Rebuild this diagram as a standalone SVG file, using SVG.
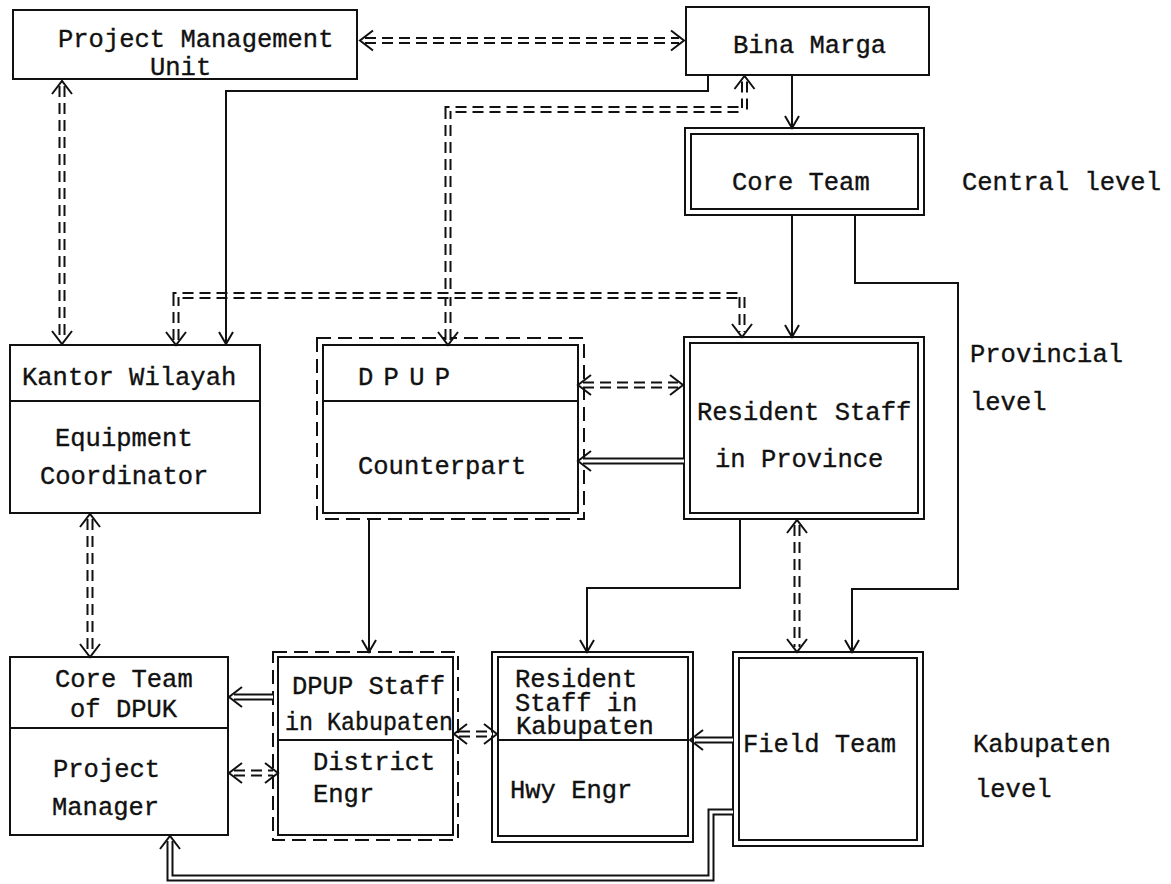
<svg xmlns="http://www.w3.org/2000/svg" width="1171" height="884" viewBox="0 0 1171 884">
<style>
.bx{fill:none;stroke:#111;stroke-width:2}
.dbx{fill:none;stroke:#111;stroke-width:2;stroke-dasharray:14 7}
.t{font-family:"Liberation Mono","Courier New",monospace;font-size:25.5px;fill:#111;stroke:#111;stroke-width:0.35}
.s{fill:none;stroke:#111;stroke-width:2}
.ddb{fill:none;stroke:#111;stroke-width:7;stroke-dasharray:11 6}
.dsb{fill:none;stroke:#111;stroke-width:7}
.dw{fill:none;stroke:#fff;stroke-width:3}
</style>
<defs>
<marker id="a1" viewBox="0 0 20 20" refX="18" refY="10" markerWidth="20" markerHeight="20" markerUnits="userSpaceOnUse" orient="auto">
<path d="M6,3 L18,10 L6,17" fill="none" stroke="#111" stroke-width="2"/>
</marker>
<marker id="a2" viewBox="0 0 30 26" refX="16" refY="13" markerWidth="30" markerHeight="26" markerUnits="userSpaceOnUse" orient="auto-start-reverse">
<path d="M8,3 L21,13 L8,23" fill="none" stroke="#111" stroke-width="2"/>
</marker>
</defs>
<rect width="1171" height="884" fill="#fff"/>

<g id="pmu">
<rect class="bx" x="13" y="10" width="344" height="69"/>
<text class="t" x="58" y="47">Project Management</text>
<text class="t" x="150" y="75">Unit</text>
</g>
<g id="bina-marga">
<rect class="bx" x="686" y="7" width="243" height="68"/>
<text class="t" x="733" y="53">Bina Marga</text>
</g>
<g id="core-team">
<rect class="bx" x="685" y="128" width="239" height="87"/>
<rect class="bx" x="691" y="134" width="227" height="75"/>
<text class="t" x="732" y="190">Core Team</text>
</g>
<g id="kantor">
<rect class="bx" x="10" y="345" width="250" height="168"/>
<line class="bx" x1="10" y1="401" x2="260" y2="401"/>
<text class="t" x="22" y="385">Kantor Wilayah</text>
<text class="t" x="55" y="446">Equipment</text>
<text class="t" x="40" y="484">Coordinator</text>
</g>
<g id="dpup">
<rect class="dbx" x="317" y="338" width="267" height="181"/>
<rect class="bx" x="323" y="345" width="255" height="168"/>
<line class="bx" x1="323" y1="401" x2="578" y2="401"/>
<text class="t" x="358" y="385" textLength="92" lengthAdjust="spacing">D P U P</text>
<text class="t" x="358" y="474">Counterpart</text>
</g>
<g id="resident-province">
<rect class="bx" x="684" y="337" width="240" height="182"/>
<rect class="bx" x="690" y="343" width="228" height="170"/>
<text class="t" x="697" y="420">Resident Staff</text>
<text class="t" x="715" y="467">in Province</text>
</g>
<g id="core-dpuk">
<rect class="bx" x="10" y="657" width="218" height="178"/>
<line class="bx" x1="10" y1="728" x2="228" y2="728"/>
<text class="t" x="55" y="687">Core Team</text>
<text class="t" x="70" y="717">of DPUK</text>
<text class="t" x="53" y="777">Project</text>
<text class="t" x="52" y="815">Manager</text>
</g>
<g id="dpup-staff">
<rect class="dbx" x="273" y="652" width="185" height="188"/>
<rect class="bx" x="278" y="657" width="175" height="178"/>
<line class="bx" x1="278" y1="740" x2="453" y2="740"/>
<text class="t" x="292" y="694">DPUP Staff</text>
<text class="t" x="285" y="730" textLength="168" lengthAdjust="spacingAndGlyphs">in Kabupaten</text>
<text class="t" x="313" y="770">District</text>
<text class="t" x="313" y="802">Engr</text>
</g>
<g id="resident-kab">
<rect class="bx" x="492" y="652" width="201" height="190"/>
<rect class="bx" x="498" y="657" width="190" height="179"/>
<line class="bx" x1="498" y1="740" x2="688" y2="740"/>
<text class="t" x="515" y="687">Resident</text>
<text class="t" x="515" y="711">Staff in</text>
<text class="t" x="516" y="734">Kabupaten</text>
<text class="t" x="510" y="798">Hwy Engr</text>
</g>
<g id="field-team">
<rect class="bx" x="733" y="652" width="190" height="194"/>
<rect class="bx" x="739" y="658" width="178" height="182"/>
<text class="t" x="743" y="752">Field Team</text>
</g>
<g id="levels">
<text class="t" x="962" y="190">Central level</text>
<text class="t" x="970" y="362">Provincial</text>
<text class="t" x="970" y="410">level</text>
<text class="t" x="973" y="752">Kabupaten</text>
<text class="t" x="975" y="797">level</text>
</g>

<g id="connectors">
<path class="ddb" d="M365,40.5 H679"/><path class="dw" d="M365,40.5 H679" marker-start="url(#a2)" marker-end="url(#a2)"/>
<path class="ddb" d="M62,86 V339"/><path class="dw" d="M62,86 V339" marker-start="url(#a2)" marker-end="url(#a2)"/>
<path class="ddb" d="M448,340 V109.5 H744.5 V81"/><path class="dw" d="M448,340 V109.5 H744.5 V81" marker-start="url(#a2)" marker-end="url(#a2)"/>
<path class="ddb" d="M176,340 V295.5 H742 V332"/><path class="dw" d="M176,340 V295.5 H742 V332" marker-start="url(#a2)" marker-end="url(#a2)"/>
<path class="ddb" d="M583,385 H678"/><path class="dw" d="M583,385 H678" marker-start="url(#a2)" marker-end="url(#a2)"/>
<path class="ddb" d="M797,525 V647"/><path class="dw" d="M797,525 V647" marker-start="url(#a2)" marker-end="url(#a2)"/>
<path class="ddb" d="M90,519 V652"/><path class="dw" d="M90,519 V652" marker-start="url(#a2)" marker-end="url(#a2)"/>
<path class="ddb" d="M234,773 H273"/><path class="dw" d="M234,773 H273" marker-start="url(#a2)" marker-end="url(#a2)"/>
<path class="ddb" d="M459,734 H492"/><path class="dw" d="M459,734 H492" marker-start="url(#a2)" marker-end="url(#a2)"/>
<path class="dsb" d="M684,461 H583"/><path class="dw" d="M684,461 H583" marker-end="url(#a2)"/>
<path class="dsb" d="M273,697 H234"/><path class="dw" d="M273,697 H234" marker-end="url(#a2)"/>
<path class="dsb" d="M733,740 H695"/><path class="dw" d="M733,740 H695" marker-end="url(#a2)"/>
<path class="dsb" d="M733,812 H711 V878 H170 V841"/><path class="dw" d="M733,812 H711 V878 H170 V841" marker-end="url(#a2)"/>
<path class="s" d="M708,75 V91 H226 V344" marker-end="url(#a1)"/>
<path class="s" d="M792,75 V128" marker-end="url(#a1)"/>
<path class="s" d="M792,215 V337" marker-end="url(#a1)"/>
<path class="s" d="M855,215 V283 H958 V589 H852 V652" marker-end="url(#a1)"/>
<path class="s" d="M740,519 V588 H587 V652" marker-end="url(#a1)"/>
<path class="s" d="M369,519 V652" marker-end="url(#a1)"/>
</g>
</svg>
